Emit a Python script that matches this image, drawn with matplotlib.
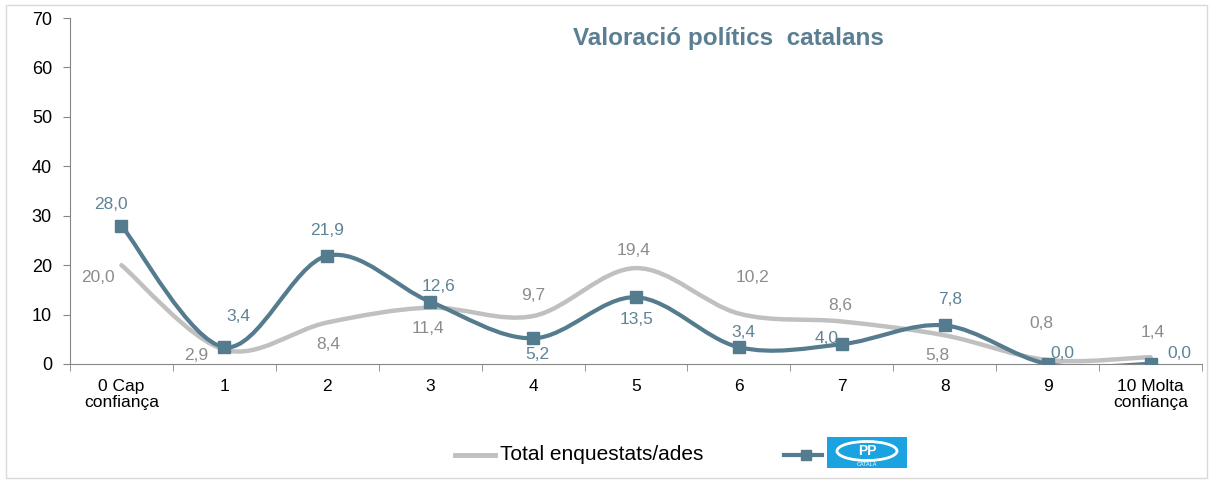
import numpy as np
import matplotlib
matplotlib.use("Agg")
import matplotlib.pyplot as plt
from matplotlib.path import Path
from matplotlib.patches import PathPatch, Rectangle, Ellipse
from matplotlib.lines import Line2D

plt.rcParams['font.family'] = ['Liberation Sans', 'DejaVu Sans']

# Data
categories = ["0 Cap\nconfiança", "1", "2", "3", "4", "5", "6", "7", "8", "9", "10 Molta\nconfiança"]
total = [20.0, 2.9, 8.4, 11.4, 9.7, 19.4, 10.2, 8.6, 5.8, 0.8, 1.4]
pp = [28.0, 3.4, 21.9, 12.6, 5.2, 13.5, 3.4, 4.0, 7.8, 0.0, 0.0]
# label offsets (pixels) for each value label
total_off = [(-24, -12), (-28, -6), (1, -22), (-2, -21), (0, 21), (-2, 18), (14, 36), (-2, 16), (-7, -20), (-6, 37), (2, 25)]
pp_off = [(-11, 21), (14, 31), (0, 25), (8, 15), (4, -16), (1, -22), (4, 15), (-15, 6), (5, 26), (15, 11), (29, 11)]

GRAY = "#c0c0c0"
BLUE = "#557b8e"
GRAY_TXT = "#8c8c8c"
BLUE_TXT = "#5f8396"


def smooth_path(x, y):
    # Excel-style smoothed line: cubic Bezier through every point
    verts = [(x[0], y[0])]
    codes = [Path.MOVETO]
    n = len(x)
    for i in range(n - 1):
        p0 = np.array([x[max(i - 1, 0)], y[max(i - 1, 0)]])
        p1 = np.array([x[i], y[i]])
        p2 = np.array([x[i + 1], y[i + 1]])
        p3 = np.array([x[min(i + 2, n - 1)], y[min(i + 2, n - 1)]])
        c1 = p1 + (p2 - p0) / 6
        c2 = p2 - (p3 - p1) / 6
        verts += [tuple(c1), tuple(c2), tuple(p2)]
        codes += [Path.CURVE4] * 3
    return Path(verts, codes)


fig = plt.figure(figsize=(12.11, 4.83), dpi=100)
ax = fig.add_axes([70 / 1211, 1 - 364 / 483, 1132 / 1211, 346 / 483])

x = np.arange(len(categories))
ax.add_patch(PathPatch(smooth_path(x, total), fill=False, edgecolor=GRAY, lw=3.2, capstyle='round', zorder=2))
ax.add_patch(PathPatch(smooth_path(x, pp), fill=False, edgecolor=BLUE, lw=3.0, zorder=3))
ax.plot(x, pp, linestyle='none', marker='s', markersize=9, color=BLUE, zorder=4)

for xi, v, off in zip(x, total, total_off):
    ax.annotate(f"{v:.1f}".replace(".", ","), (xi, v), xytext=off, textcoords='offset pixels',
                ha='center', va='center', fontsize=12.5, color=GRAY_TXT, zorder=5)
for xi, v, off in zip(x, pp, pp_off):
    ax.annotate(f"{v:.1f}".replace(".", ","), (xi, v), xytext=off, textcoords='offset pixels',
                ha='center', va='center', fontsize=12.5, color=BLUE_TXT, zorder=5)

ax.set_xlim(-0.5, len(categories) - 0.5)
ax.set_ylim(0, 70)
ax.set_yticks(range(0, 71, 10))
ax.set_xticks(x)
ax.set_xticklabels(categories, fontsize=12.5, linespacing=1.05)
ax.set_xticks(np.arange(-0.5, len(categories), 1), minor=True)
ax.tick_params(axis='x', which='major', length=0, pad=11)
ax.tick_params(axis='x', which='minor', length=5, color='#868686', direction='out')
ax.tick_params(axis='y', length=5, color='#868686', labelsize=13, pad=8)
for s in ['top', 'right']:
    ax.spines[s].set_visible(False)
for s in ['left', 'bottom']:
    ax.spines[s].set_color('#868686')

fig.text(728 / 1211, 1 - 38 / 483, "Valoració polítics  catalans", ha='center', va='center',
         fontsize=17.5, fontweight='bold', color="#5b7f92")

# legend drawn by hand
ly = 1 - 455 / 483
fig.add_artist(Line2D([455 / 1211, 495 / 1211], [ly, ly], color=GRAY, lw=3.5, transform=fig.transFigure))
fig.text(500 / 1211, ly, "Total enquestats/ades", ha='left', va='center', fontsize=15)
fig.add_artist(Line2D([784 / 1211, 822 / 1211], [ly, ly], color=BLUE, lw=3, transform=fig.transFigure))
fig.add_artist(Line2D([806 / 1211], [ly], color=BLUE, marker='s', markersize=7, transform=fig.transFigure))
fig.add_artist(Rectangle((827 / 1211, 1 - 468 / 483), 80 / 1211, 31 / 483, facecolor='#1aa3e0',
                         edgecolor='none', transform=fig.transFigure))
fig.add_artist(Ellipse((867 / 1211, 1 - 451 / 483), 60 / 1211, 19 / 483, facecolor='none',
                       edgecolor='white', lw=2, transform=fig.transFigure))
fig.text(867 / 1211, 1 - 451 / 483, "PP", ha='center', va='center', fontsize=10, fontweight='bold', color='white')
fig.text(867 / 1211, 1 - 464 / 483, "CATALÀ", ha='center', va='center', fontsize=4, color='white')

# outer border
fig.add_artist(Rectangle((6 / 1211, 5 / 483), 1201 / 1211, 473 / 483, fill=False, edgecolor='#d9d9d9',
                         lw=1, transform=fig.transFigure))

fig.savefig("out.png", dpi=100)
